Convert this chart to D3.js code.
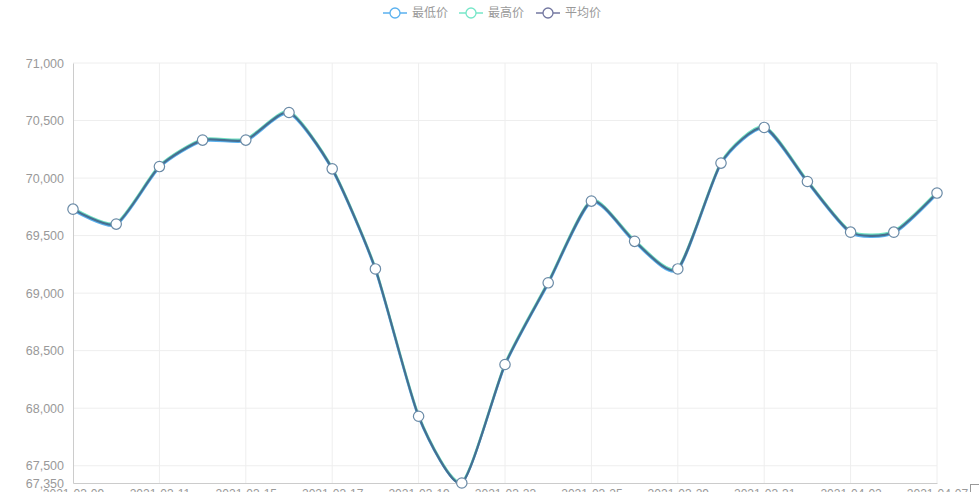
<!DOCTYPE html>
<html><head><meta charset="utf-8">
<script src="https://cdn.jsdelivr.net/npm/d3@7"></script>
<style>
html,body{margin:0;padding:0;background:#fff;overflow:hidden;}
svg{display:block;font-family:"Noto Sans CJK SC","Noto Sans",sans-serif;}
</style></head>
<body>
<svg id="chart" width="979" height="492"></svg>
<script>
const dates = ["2021-03-09","2021-03-10","2021-03-11","2021-03-12","2021-03-15","2021-03-16","2021-03-17","2021-03-18","2021-03-19","2021-03-22","2021-03-23","2021-03-24","2021-03-25","2021-03-26","2021-03-29","2021-03-30","2021-03-31","2021-04-01","2021-04-02","2021-04-06","2021-04-07"];
const avgPrice  = [69730,69600,70100,70330,70330,70570,70080,69210,67930,67350,68380,69090,69800,69450,69210,70130,70440,69970,69530,69530,69870];
const lowPrice  = [69720,69590,70090,70320,70320,70560,70070,69200,67920,67350,68370,69080,69790,69440,69200,70120,70430,69960,69520,69520,69860];
const highPrice = [69740,69610,70110,70340,70340,70580,70090,69220,67940,67360,68390,69100,69810,69460,69220,70140,70450,69980,69540,69540,69880];
const yTicks = [67350,67500,68000,68500,69000,69500,70000,70500,71000];
const seriesNames = ["最低价","最高价","平均价"];
const seriesColors = ["#5ab1ef","#6fe0c0","#456f91"];
const legendColors = ["#5ab1ef","#76e6c8","#7377a0"];

(function(){
const svg = d3.select("#chart");
const mLeft = 73, mRight = 937, mTop = 63, mBottom = 483;
const x = d3.scalePoint().domain(dates).range([mLeft, mRight]);
const y = d3.scaleLinear().domain([67350, 71000]).range([mBottom, mTop]);

// horizontal grid
svg.append("g").selectAll("line").data(yTicks.filter(d=>d!==67350)).join("line")
  .attr("x1", mLeft).attr("x2", mRight).attr("y1", d=>y(d)).attr("y2", d=>y(d))
  .attr("stroke", "#eeeeee").attr("stroke-width", 1);
// vertical grid
const labelDates = dates.filter((d,i)=>i%2===0);
svg.append("g").selectAll("line").data(labelDates.slice(1)).join("line")
  .attr("x1", d=>x(d)).attr("x2", d=>x(d)).attr("y1", mTop).attr("y2", mBottom)
  .attr("stroke", "#eeeeee").attr("stroke-width", 1);

// y axis
const yAxis = svg.append("g").attr("transform", `translate(${mLeft},0)`)
  .call(d3.axisLeft(y).tickValues(yTicks).tickFormat(d3.format(",")).tickSize(0).tickPadding(9));
yAxis.select(".domain").attr("stroke", "#cccccc");
yAxis.selectAll("text").attr("fill", "#999").attr("font-size", 12.5);

// x axis
const xAxis = svg.append("g").attr("transform", `translate(0,${mBottom})`)
  .call(d3.axisBottom(x).tickValues(labelDates).tickSize(0).tickPadding(6.5));
xAxis.select(".domain").attr("stroke", "#cccccc");
xAxis.selectAll("text").attr("fill", "#999").attr("font-size", 12);

// lines
const data = [lowPrice, highPrice, avgPrice];
const line = d3.line().x((d,i)=>x(dates[i])).y(d=>y(d)).curve(d3.curveCardinal.tension(0.35));
data.forEach((vals,k)=>{
  svg.append("path").datum(vals).attr("d", line)
    .attr("fill","none").attr("stroke", seriesColors[k]).attr("stroke-width", 2.2);
});
// points
svg.append("g").selectAll("circle").data(avgPrice).join("circle")
  .attr("cx",(d,i)=>x(dates[i])).attr("cy",d=>y(d)).attr("r",5.2)
  .attr("fill","#fff").attr("stroke","#6a8aa6").attr("stroke-width",1.2);

// legend
const legendX = [383, 459, 536];
const lg = svg.append("g");
seriesNames.forEach((n,k)=>{
  const g = lg.append("g").attr("transform", `translate(${legendX[k]},13)`);
  g.append("line").attr("x1",0).attr("x2",24).attr("y1",0).attr("y2",0).attr("stroke",legendColors[k]).attr("stroke-width",1.5);
  g.append("circle").attr("cx",12).attr("cy",0).attr("r",5).attr("fill","#fff").attr("stroke",legendColors[k]).attr("stroke-width",1.3);
  g.append("text").attr("x",29).attr("y",0).attr("dy","0.35em").attr("font-size",12).attr("fill","#999").text(n);
});

// small box at bottom right
svg.append("rect").attr("x",970.5).attr("y",484.5).attr("width",12).attr("height",12)
  .attr("fill","#fff").attr("stroke","#999");
})();
</script>
</body></html>
